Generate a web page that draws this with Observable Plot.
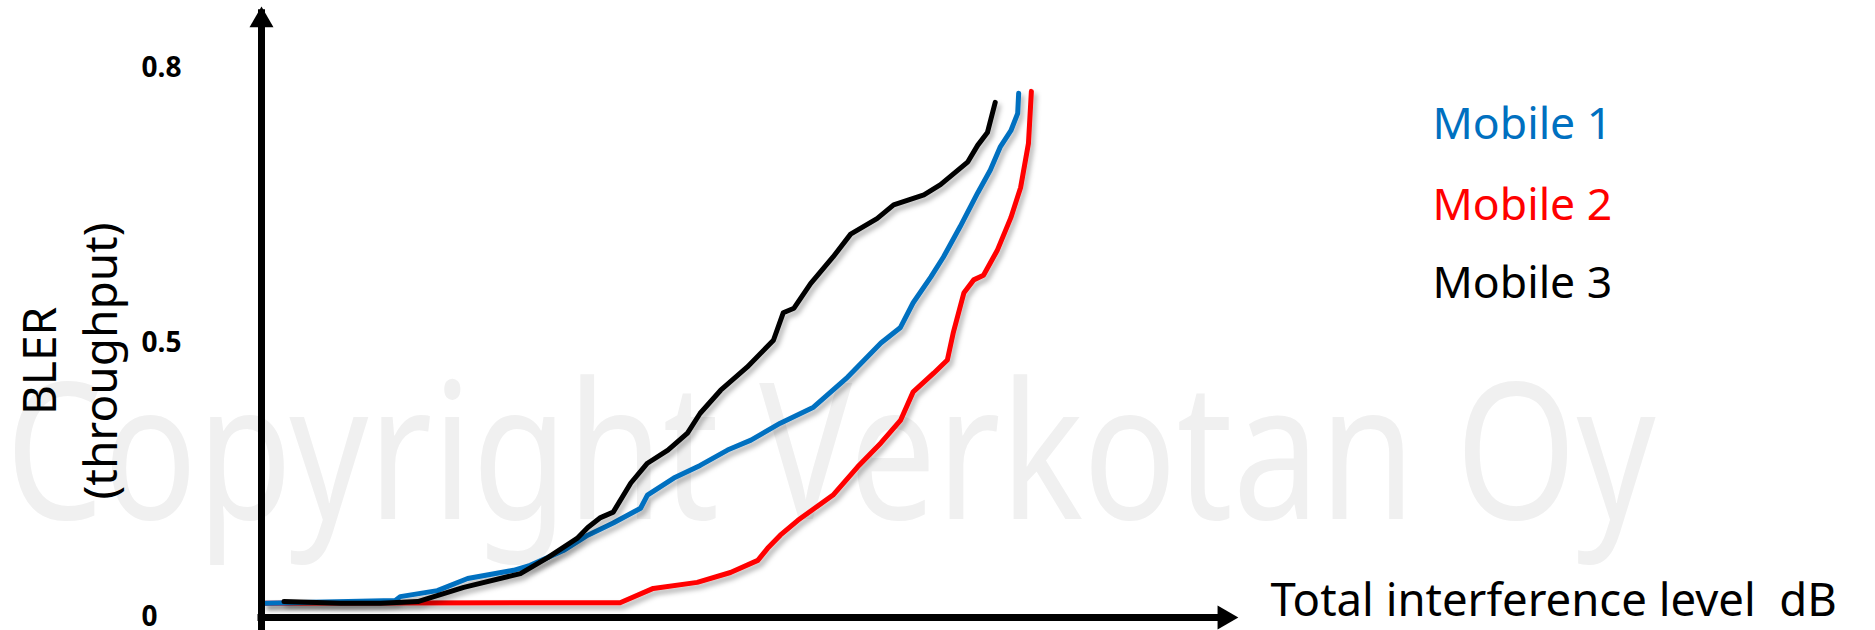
<!DOCTYPE html>
<html><head><meta charset="utf-8">
<script src="https://cdn.jsdelivr.net/npm/d3@7"></script>
<script src="https://cdn.jsdelivr.net/npm/@observablehq/plot@0.6"></script>
<style>body{margin:0;background:#fff;} #chart svg{display:block;}</style>
</head><body><div id="chart"></div>
<script>
// ---- data ----
const seriesNames = ["Mobile 1", "Mobile 2", "Mobile 3"];
const seriesColors = ["#0070C0", "#FF0000", "#000000"];

const mobile1X = [0.4, 13.7, 14.2, 18.0, 21.1, 25.8, 27.5, 30.9, 33.4, 36.0, 38.8, 39.5, 42.2, 44.9, 47.7, 50.1, 53.1, 56.5, 60.0, 63.4, 65.4, 66.7, 68.5, 69.8, 71.5, 73.3, 74.6, 75.6, 76.7, 77.4, 77.5];
const mobile1Y = [0.026, 0.031, 0.038, 0.049, 0.071, 0.086, 0.095, 0.122, 0.150, 0.172, 0.199, 0.223, 0.254, 0.277, 0.305, 0.323, 0.354, 0.383, 0.438, 0.500, 0.517, 0.544, 0.572, 0.594, 0.627, 0.664, 0.689, 0.714, 0.732, 0.751, 0.773];

const mobile2X = [0.4, 36.7, 40.1, 44.6, 48.0, 50.8, 51.8, 53.1, 54.9, 58.5, 61.0, 63.4, 65.4, 66.7, 68.8, 70.2, 70.8, 71.9, 72.9, 73.9, 75.3, 76.7, 77.7, 78.5, 78.8];
const mobile2Y = [0.026, 0.027, 0.053, 0.064, 0.082, 0.104, 0.126, 0.150, 0.177, 0.223, 0.274, 0.318, 0.359, 0.411, 0.445, 0.469, 0.511, 0.555, 0.569, 0.574, 0.601, 0.637, 0.670, 0.718, 0.775];

const mobile3X = [2.3, 8.1, 12.2, 16.0, 20.7, 26.5, 29.3, 32.3, 33.4, 34.7, 36.0, 37.8, 39.5, 41.6, 43.6, 44.9, 47.0, 49.7, 52.4, 53.4, 54.5, 56.2, 58.5, 60.3, 63.0, 64.7, 67.8, 69.5, 72.3, 73.3, 74.3, 75.1];
const mobile3Y = [0.029, 0.026, 0.026, 0.029, 0.055, 0.080, 0.109, 0.144, 0.164, 0.182, 0.192, 0.245, 0.281, 0.305, 0.336, 0.372, 0.414, 0.456, 0.503, 0.533, 0.538, 0.565, 0.594, 0.619, 0.636, 0.651, 0.662, 0.673, 0.698, 0.716, 0.730, 0.763];

const yTicks = [0, 0.5, 0.8];
const yTickLabels = ["0", "0.5", "0.8"];
const xTitle = "Total interference level\u00a0 dB";
const yTitle = "BLER\n(throughput)";
const watermark = "Copyright Verkotan Oy";

// ---- table ----
const seriesXY = [[mobile1X, mobile1Y], [mobile2X, mobile2Y], [mobile3X, mobile3Y]];
const drawOrder = [1, 0, 2];
const rows = [];
for (const i of drawOrder) {
  const [xs, ys] = seriesXY[i];
  xs.forEach((x, j) => rows.push({series: seriesNames[i], x, y: ys[j]}));
}

// the original axis is not linear: 0 -> 0.5 and 0.5 -> 0.8 take equal lengths
const yWarp = v => (v <= 0.5 ? v : 0.5 + (v - 0.5) * 5 / 3);
const yAxisTip = 0.868;
const font = "'Noto Sans', 'DejaVu Sans', sans-serif";

const chart = Plot.plot({
  width: 1875,
  height: 630,
  marginLeft: 261,
  marginRight: 637,
  marginTop: 68,
  marginBottom: 13,
  style: {fontFamily: font, background: "#fff", overflow: "visible"},
  x: {domain: [0, 100], axis: null},
  y: {transform: yWarp, domain: [0, 1], axis: null},
  color: {domain: seriesNames, range: seriesColors},
  marks: [
    Plot.text([watermark], {frameAnchor: "left", dx: -256, dy: 115, textAnchor: "start", lineAnchor: "middle", fontSize: 190, fill: "#f0f0f0"}),
    Plot.line(rows, {x: "x", y: "y", z: "series", stroke: "series", strokeWidth: 5, strokeLinejoin: "round"}),
    Plot.ruleY([0], {x1: 0, x2: 100, insetRight: 14, insetLeft: -3.5, stroke: "#000", strokeWidth: 7}),
    Plot.ruleX([0], {y1: 0, y2: yAxisTip, insetTop: 14, insetBottom: -3.5, stroke: "#000", strokeWidth: 7}),
    Plot.dot([0], {x: 100, y: 0, symbol: "triangle", r: 8.9, rotate: 90, fill: "#000", stroke: "none", dx: -14}),
    Plot.dot([0], {x: 0, y: yAxisTip, symbol: "triangle", r: 8.9, fill: "#000", stroke: "none", dy: 14}),
    Plot.text(yTicks, {y: d => d, text: (d, i) => yTickLabels[i], frameAnchor: "left", dx: -120, textAnchor: "start", lineAnchor: "middle", fontWeight: "bold", fontSize: 28, fill: "#000"}),
    Plot.text([yTitle], {frameAnchor: "left", dx: -195, dy: 18, rotate: -90, textAnchor: "middle", lineAnchor: "middle", lineHeight: 1.33, fontSize: 46, fill: "#000"}),
    Plot.text([xTitle], {x: 100, y: 0, dx: 32, dy: -16, textAnchor: "start", lineAnchor: "middle", fontSize: 45.5, fill: "#000"}),
    ...seriesNames.map((n, i) => Plot.text([n], {frameAnchor: "top-right", dx: 194, dy: [56, 137, 215][i], textAnchor: "start", lineAnchor: "middle", fontSize: 44.5, fill: seriesColors[i]}))
  ]
});

document.getElementById("chart").appendChild(chart);

// soft drop shadow under the curves, as in the original
const ns = "http://www.w3.org/2000/svg";
const defs = document.createElementNS(ns, "defs");
const filter = document.createElementNS(ns, "filter");
filter.setAttribute("id", "curveShadow");
filter.setAttribute("x", "-10%"); filter.setAttribute("y", "-10%");
filter.setAttribute("width", "130%"); filter.setAttribute("height", "130%");
const shadow = document.createElementNS(ns, "feDropShadow");
shadow.setAttribute("dx", "3"); shadow.setAttribute("dy", "4");
shadow.setAttribute("stdDeviation", "2.5");
shadow.setAttribute("flood-color", "#000"); shadow.setAttribute("flood-opacity", "0.3");
filter.appendChild(shadow); defs.appendChild(filter);
chart.insertBefore(defs, chart.firstChild);
const lineGroups = [...chart.querySelectorAll("g")].filter(g => g.getAttribute("aria-label") === "line" || g.getAttribute("stroke-width") === "5");
lineGroups.forEach(g => g.querySelectorAll("path").forEach(p => p.setAttribute("filter", "url(#curveShadow)")));

const wm = [...chart.querySelectorAll("text")].find(t => t.textContent === watermark);
if (wm) { wm.setAttribute("textLength", 1650); wm.setAttribute("lengthAdjust", "spacingAndGlyphs"); }
</script>
</body></html>
